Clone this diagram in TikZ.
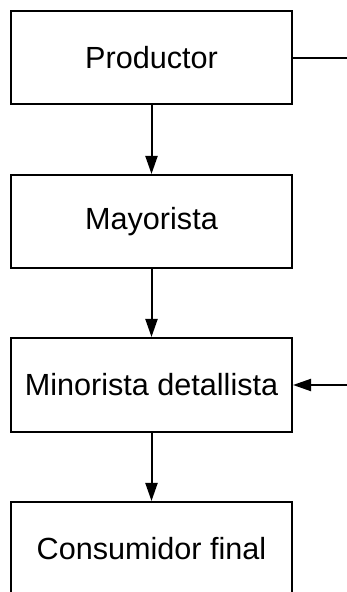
\documentclass[tikz,border=0pt]{standalone}
\usepackage{fontspec}
\setmainfont{Liberation Sans}
\usetikzlibrary{arrows.meta}
\begin{document}
\begin{tikzpicture}[x=1pt,y=1pt,
  stagebox/.style={draw=black, line width=2pt, minimum width=281pt, minimum height=93pt, inner sep=0pt, font=\fontsize{30.6}{36}\selectfont},
  flow/.style={draw=black, line width=2pt, -{Triangle[length=18pt,width=12pt]}},
  plain/.style={draw=black, line width=2pt}]
\useasboundingbox (0,0) rectangle (347,592);
\node[stagebox] (prod) at (151.5,534) {Productor};
\node[stagebox] (may) at (151.5,370.5) {Mayorista};
\node[stagebox, minimum height=94pt] (min) at (151.5,207) {Minorista detallista};
\node[stagebox, minimum height=94pt] (cons) at (151.5,43) {Consumidor final};
\coordinate (rtop) at (347,534);
\coordinate (rbot) at (347,207);
\draw[plain] (prod.east) -- (rtop);
\draw[flow] (prod) -- (may);
\draw[flow] (may) -- (min);
\draw[flow] (min) -- (cons);
\draw[flow] (rbot) -- (min.east);
\end{tikzpicture}
\end{document}
